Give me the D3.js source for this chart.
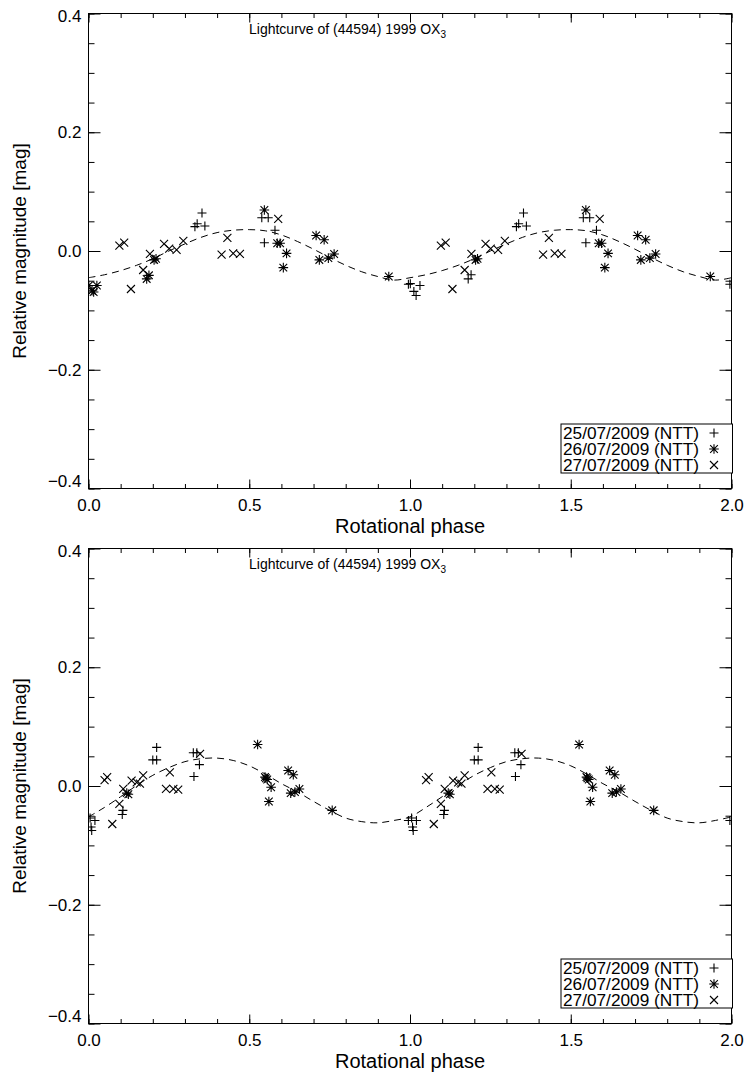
<!DOCTYPE html>
<html>
<head>
<meta charset="utf-8">
<script src="https://cdn.jsdelivr.net/npm/d3@7"></script>
<style>
  body { margin: 0; background: #fff; }
  text { font-family: "Liberation Sans", Arial, Helvetica, sans-serif; fill: #000; }
</style>
</head>
<body>
<div id="chart"></div>
<script>
// ---- data ----
// points are [phase, mag]; each is drawn at phase and phase+1 (only what falls in 0..2 shows)

// 25/07/2009 (+), upper panel
var plusTop = [
  [0.331, 0.041], [0.338, 0.046], [0.353, 0.064], [0.362, 0.042],
  [0.539, 0.056], [0.547, 0.014], [0.559, 0.056], [0.580, 0.035],
  [0.995, -0.056], [1.001, -0.055], [1.012, -0.068], [1.019, -0.075], [1.031, -0.058],
  [1.181, -0.047], [1.190, -0.040]
];
// 26/07/2009 (*), upper panel
var starTop = [
  [-0.999, -0.058], [-0.989, -0.067], [-0.984, -0.069], [-0.974, -0.058],
  [-0.819, -0.047], [-0.812, -0.041],
  [0.204, -0.015], [0.210, -0.013],
  [0.547, 0.069], [0.587, 0.013], [0.596, 0.013], [0.606, -0.028], [0.616, -0.004],
  [0.708, 0.026], [0.718, -0.015], [0.733, 0.019], [0.746, -0.012], [0.764, -0.005],
  [0.934, -0.043]
];
// 27/07/2009 (x), upper panel
var crossTop = [
  [0.096, 0.009], [0.111, 0.014], [0.132, -0.064], [0.170, -0.032], [0.191, -0.005],
  [0.235, 0.012], [0.251, 0.004], [0.274, 0.002], [0.295, 0.017],
  [0.414, -0.006], [0.432, 0.022], [0.450, -0.004], [0.471, -0.005], [0.590, 0.054]
];

// lower panel
var plusBot = [
  [0.005, -0.054], [0.008, -0.069], [0.010, -0.075], [0.020, -0.058],
  [0.105, -0.048], [0.107, -0.041],
  [0.200, 0.044], [0.212, 0.044], [0.212, 0.065],
  [0.326, 0.056], [0.328, 0.016], [0.337, 0.056], [0.345, 0.036],
  [0.995, -0.058]
];
var starBot = [
  [0.119, -0.012], [0.124, -0.014],
  [0.526, 0.070], [0.549, 0.015], [0.552, 0.013], [0.556, 0.011], [0.561, -0.026], [0.568, -0.002],
  [0.621, 0.026], [0.629, -0.012], [0.637, 0.019], [0.642, -0.010], [0.656, -0.005],
  [0.758, -0.041]
];
var crossBot = [
  [0.050, 0.010], [0.058, 0.015], [0.074, -0.064], [0.096, -0.030], [0.108, -0.005],
  [0.134, 0.009], [0.150, 0.006], [0.160, 0.004], [0.170, 0.018],
  [0.241, -0.005], [0.253, 0.023], [0.264, -0.005], [0.279, -0.006], [0.347, 0.054]
];

// dashed fit curve, read every 0.05 in phase over one cycle
var fitPhase = [0, 0.05, 0.1, 0.15, 0.2, 0.25, 0.3, 0.35, 0.4, 0.45, 0.5,
                0.55, 0.6, 0.65, 0.7, 0.75, 0.8, 0.85, 0.9, 0.95, 1.0];
var fitTop = [-0.045, -0.040, -0.033, -0.024, -0.013, 0.000, 0.012, 0.023, 0.031, 0.035, 0.036,
              0.034, 0.027, 0.016, 0.003, -0.011, -0.024, -0.035, -0.043, -0.049, -0.045];
var fitBot = [-0.052, -0.036, -0.018, 0.001, 0.018, 0.031, 0.041, 0.046, 0.047, 0.043, 0.034,
              0.020, 0.004, -0.010, -0.026, -0.041, -0.054, -0.060, -0.062, -0.058, -0.052];

var xTicks = [0, 0.5, 1.0, 1.5, 2.0];
var yTicks = [-0.4, -0.2, 0.0, 0.2, 0.4];
var legendLabels = ["25/07/2009 (NTT)", "26/07/2009 (NTT)", "27/07/2009 (NTT)"];
var legendSymbols = ["plus", "star", "cross"];

// ---- drawing ----
var width = 748, height = 1077;
var xLeft = 88.5, xRight = 731.5;

var panels = [
  {top: 13.5, bottom: 488.5, plus: plusTop, star: starTop, cross: crossTop, fit: fitTop},
  {top: 548.5, bottom: 1023.5, plus: plusBot, star: starBot, cross: crossBot, fit: fitBot}
];

var svg = d3.select("#chart").append("svg")
  .attr("width", width)
  .attr("height", height);

svg.append("rect").attr("width", width).attr("height", height).attr("fill", "#fff");

// IDL-like plot symbols, stroked
function symPath(type, s) {
  if (type == "plus") return "M" + (-s) + ",0H" + s + "M0," + (-s) + "V" + s;
  if (type == "cross") return "M" + (-s) + "," + (-s) + "L" + s + "," + s + "M" + (-s) + "," + s + "L" + s + "," + (-s);
  var c = s * 0.8;
  return "M" + (-s) + ",0H" + s + "M0," + (-s) + "V" + s +
         "M" + (-c) + "," + (-c) + "L" + c + "," + c + "M" + (-c) + "," + c + "L" + c + "," + (-c);
}
var symSize = {plus: 4.5, star: 4.8, cross: 4};

// both copies of a folded point set that land inside 0..2
function fold(pts) {
  var out = [];
  pts.forEach(function(d) {
    [d[0], d[0] + 1].forEach(function(p) {
      if (p >= 0 && p <= 2) out.push([p, d[1]]);
    });
  });
  return out;
}

panels.forEach(function(pan, k) {
  var g = svg.append("g");

  var x = d3.scaleLinear().domain([0, 2]).range([xLeft, xRight]);
  var y = d3.scaleLinear().domain([-0.4, 0.4]).range([pan.bottom, pan.top]);

  var clipId = "clip" + k;
  g.append("clipPath").attr("id", clipId)
    .append("rect")
    .attr("x", xLeft).attr("y", pan.top)
    .attr("width", xRight - xLeft).attr("height", pan.bottom - pan.top);

  // minor ticks
  var minorX = d3.range(0, 21).map(function(i) { return i / 10; });
  var minorY = d3.range(0, 17).map(function(i) { return -0.4 + i * 0.05; });

  function axisStyle(sel) {
    sel.select(".domain").remove();
    sel.selectAll("line").attr("stroke", "#000").attr("stroke-width", 1);
    sel.selectAll("text").attr("font-size", 17).attr("fill", "#000");
  }

  g.append("g").attr("transform", "translate(0," + pan.bottom + ")")
    .call(d3.axisBottom(x).tickValues(minorX).tickSize(-4.5).tickFormat(""))
    .call(axisStyle);
  g.append("g").attr("transform", "translate(0," + pan.top + ")")
    .call(d3.axisTop(x).tickValues(minorX).tickSize(-4.5).tickFormat(""))
    .call(axisStyle);
  g.append("g").attr("transform", "translate(" + xLeft + ",0)")
    .call(d3.axisLeft(y).tickValues(minorY).tickSize(-6).tickFormat(""))
    .call(axisStyle);
  g.append("g").attr("transform", "translate(" + xRight + ",0)")
    .call(d3.axisRight(y).tickValues(minorY).tickSize(-6).tickFormat(""))
    .call(axisStyle);

  // major ticks + labels
  g.append("g").attr("transform", "translate(0," + pan.bottom + ")")
    .call(d3.axisBottom(x).tickValues(xTicks).tickSize(-9).tickPadding(10).tickFormat(d3.format(".1f")))
    .call(axisStyle);
  g.append("g").attr("transform", "translate(0," + pan.top + ")")
    .call(d3.axisTop(x).tickValues(xTicks).tickSize(-9).tickFormat(""))
    .call(axisStyle);
  var yl = g.append("g").attr("transform", "translate(" + xLeft + ",0)")
    .call(d3.axisLeft(y).tickValues(yTicks).tickSize(-12).tickPadding(7).tickFormat(d3.format(".1f")))
    .call(axisStyle);
  // lowest label sits a little higher, clear of the x labels
  yl.selectAll(".tick").filter(function(d) { return d < -0.39; }).select("text").attr("dy", "-0.1em");
  yl.selectAll(".tick").filter(function(d) { return d > 0.39; }).select("text").attr("dy", "0.45em");
  g.append("g").attr("transform", "translate(" + xRight + ",0)")
    .call(d3.axisRight(y).tickValues(yTicks).tickSize(-12).tickFormat(""))
    .call(axisStyle);

  // frame
  g.append("rect")
    .attr("x", xLeft).attr("y", pan.top)
    .attr("width", xRight - xLeft).attr("height", pan.bottom - pan.top)
    .attr("fill", "none").attr("stroke", "#000").attr("stroke-width", 1);

  // axis titles
  g.append("text")
    .attr("x", (xLeft + xRight) / 2).attr("y", pan.bottom + 44)
    .attr("text-anchor", "middle").attr("font-size", 20)
    .text("Rotational phase");
  g.append("text")
    .attr("transform", "translate(26," + ((pan.top + pan.bottom) / 2) + ") rotate(-90)")
    .attr("text-anchor", "middle").attr("font-size", 19)
    .text("Relative magnitude [mag]");

  // title
  var t = g.append("text").attr("x", 249).attr("y", pan.top + 20).attr("font-size", 14);
  t.append("tspan").text("Lightcurve of (44594) 1999 OX");
  t.append("tspan").attr("font-size", 10).attr("dy", 4).text("3");

  var plot = g.append("g").attr("clip-path", "url(#" + clipId + ")");

  // fit curve over two cycles
  var fitPts = fitPhase.map(function(p, i) { return [p, pan.fit[i]]; });
  var fitTwo = fitPts.concat(fitPts.slice(1).map(function(d) { return [d[0] + 1, d[1]]; }));
  plot.append("path")
    .datum(fitTwo)
    .attr("fill", "none")
    .attr("stroke", "#000")
    .attr("stroke-width", 1)
    .attr("stroke-dasharray", "7,5")
    .attr("d", d3.line()
      .x(function(d) { return x(d[0]); })
      .y(function(d) { return y(d[1]); })
      .curve(d3.curveCatmullRom));

  // points
  [["plus", pan.plus], ["star", pan.star], ["cross", pan.cross]].forEach(function(s) {
    plot.selectAll(".p" + s[0])
      .data(fold(s[1]))
      .enter()
      .append("path")
      .attr("class", "p" + s[0])
      .attr("transform", function(d) { return "translate(" + x(d[0]) + "," + y(d[1]) + ")"; })
      .attr("d", symPath(s[0], symSize[s[0]]))
      .attr("fill", "none")
      .attr("stroke", "#000")
      .attr("stroke-width", 1.1);
  });

  // legend box
  var lgTop = pan.bottom - 64.5, lgLeft = 561;
  g.append("rect")
    .attr("x", lgLeft).attr("y", lgTop)
    .attr("width", xRight - lgLeft + 1).attr("height", 49)
    .attr("fill", "#fff").attr("stroke", "#000").attr("stroke-width", 1);
  legendLabels.forEach(function(lbl, i) {
    g.append("text")
      .attr("x", lgLeft + 2).attr("y", lgTop + 14.5 + i * 16)
      .attr("font-size", 16)
      .attr("textLength", 136)
      .attr("lengthAdjust", "spacingAndGlyphs")
      .text(lbl);
    g.append("path")
      .attr("transform", "translate(" + (lgLeft + 153) + "," + (lgTop + 9 + i * 16) + ")")
      .attr("d", symPath(legendSymbols[i], symSize[legendSymbols[i]]))
      .attr("fill", "none").attr("stroke", "#000").attr("stroke-width", 1.1);
  });
});
</script>
</body>
</html>
